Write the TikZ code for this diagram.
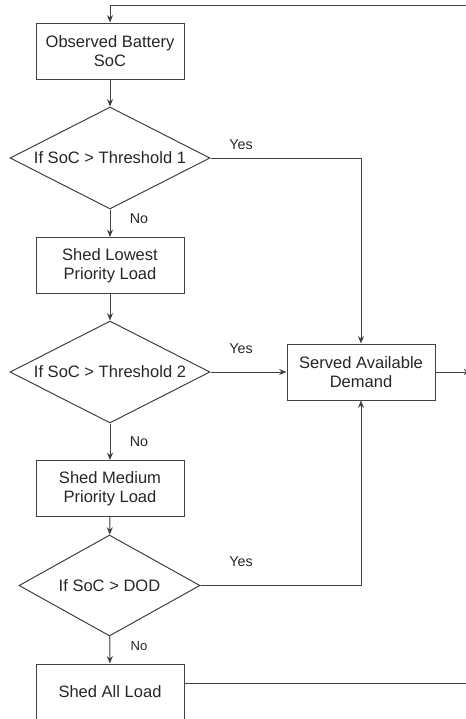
\documentclass[tikz,border=0pt]{standalone}
\usepackage{fontspec}
\setmainfont{Liberation Sans}
\usetikzlibrary{shapes.geometric,arrows.meta}

\definecolor{lineGray}{RGB}{64,64,64}
\definecolor{textGray}{RGB}{38,38,38}

\tikzstyle{process}=[shape=rectangle,draw=lineGray,text=textGray,line width=0.75pt,minimum width=111pt,minimum height=42pt,inner sep=0pt,align=center,font=\fontsize{12.4}{14.3}\selectfont]
\tikzstyle{decision}=[shape=diamond,draw=lineGray,text=textGray,line width=0.75pt,minimum width=150pt,minimum height=76.5pt,inner sep=0pt,aspect=2,font=\fontsize{12.4}{14.3}\selectfont]
\tikzstyle{branch}=[text=textGray,inner sep=0pt,font=\fontsize{10.7}{12}\selectfont]
\tikzstyle{flow}=[-{Stealth[length=5.5pt,width=4.5pt]},draw=lineGray,line width=0.75pt]

\begin{document}
\begin{tikzpicture}[x=0.75pt,y=-0.75pt]
        \useasboundingbox (0,0) rectangle (466,719);

        % main column
        \node[process]  (obs)     at (110,51)    {Observed Battery\\SoC};
        \node[decision] (thr1)    at (110,158)   {If SoC > Threshold 1};
        \node[process]  (shedLow) at (110,265.5) {Shed Lowest\\Priority Load};
        \node[decision] (thr2)    at (110,372)   {If SoC > Threshold 2};
        \node[process]  (shedMed) at (110,488.5) {Shed Medium\\Priority Load};
        \node[decision,minimum width=135.75pt,minimum height=75.75pt] (dod) at (109.5,585.5) {If SoC > DOD};
        \node[process]  (shedAll) at (110,692)   {Shed All Load};
        \node[process]  (served)  at (361,372)   {Served Available\\Demand};

        \node[branch] (yes1) at (241,145) {Yes};
        \node[branch] (yes2) at (241,349) {Yes};
        \node[branch] (yes3) at (241,562) {Yes};
        \node[branch] (no1)  at (139,219) {No};
        \node[branch] (no2)  at (139,442) {No};
        \node[branch,font=\fontsize{9.8}{11}\selectfont] (no3) at (139,646) {No};

        \coordinate (loopTop) at (466,5);
        \coordinate (loopOut) at (471,372);
        \coordinate (allOut)  at (466,683);

        \draw [flow] (loopTop) -| (obs);
        \draw [flow] (obs) to (thr1);
        \draw [flow] (thr1) to (shedLow);
        \draw [flow] (thr1) -| (served);
        \draw [flow] (shedLow) to (thr2);
        \draw [flow] (thr2) to (served);
        \draw [flow] (thr2) to (shedMed);
        \draw [flow] (shedMed) to (dod);
        \draw [flow] (dod) -| (served);
        \draw [flow] (dod) to (shedAll);
        \draw [flow] (served) to (loopOut);
        \draw [draw=lineGray,line width=0.75pt] (shedAll.east |- allOut) to (allOut);
\end{tikzpicture}
\end{document}
